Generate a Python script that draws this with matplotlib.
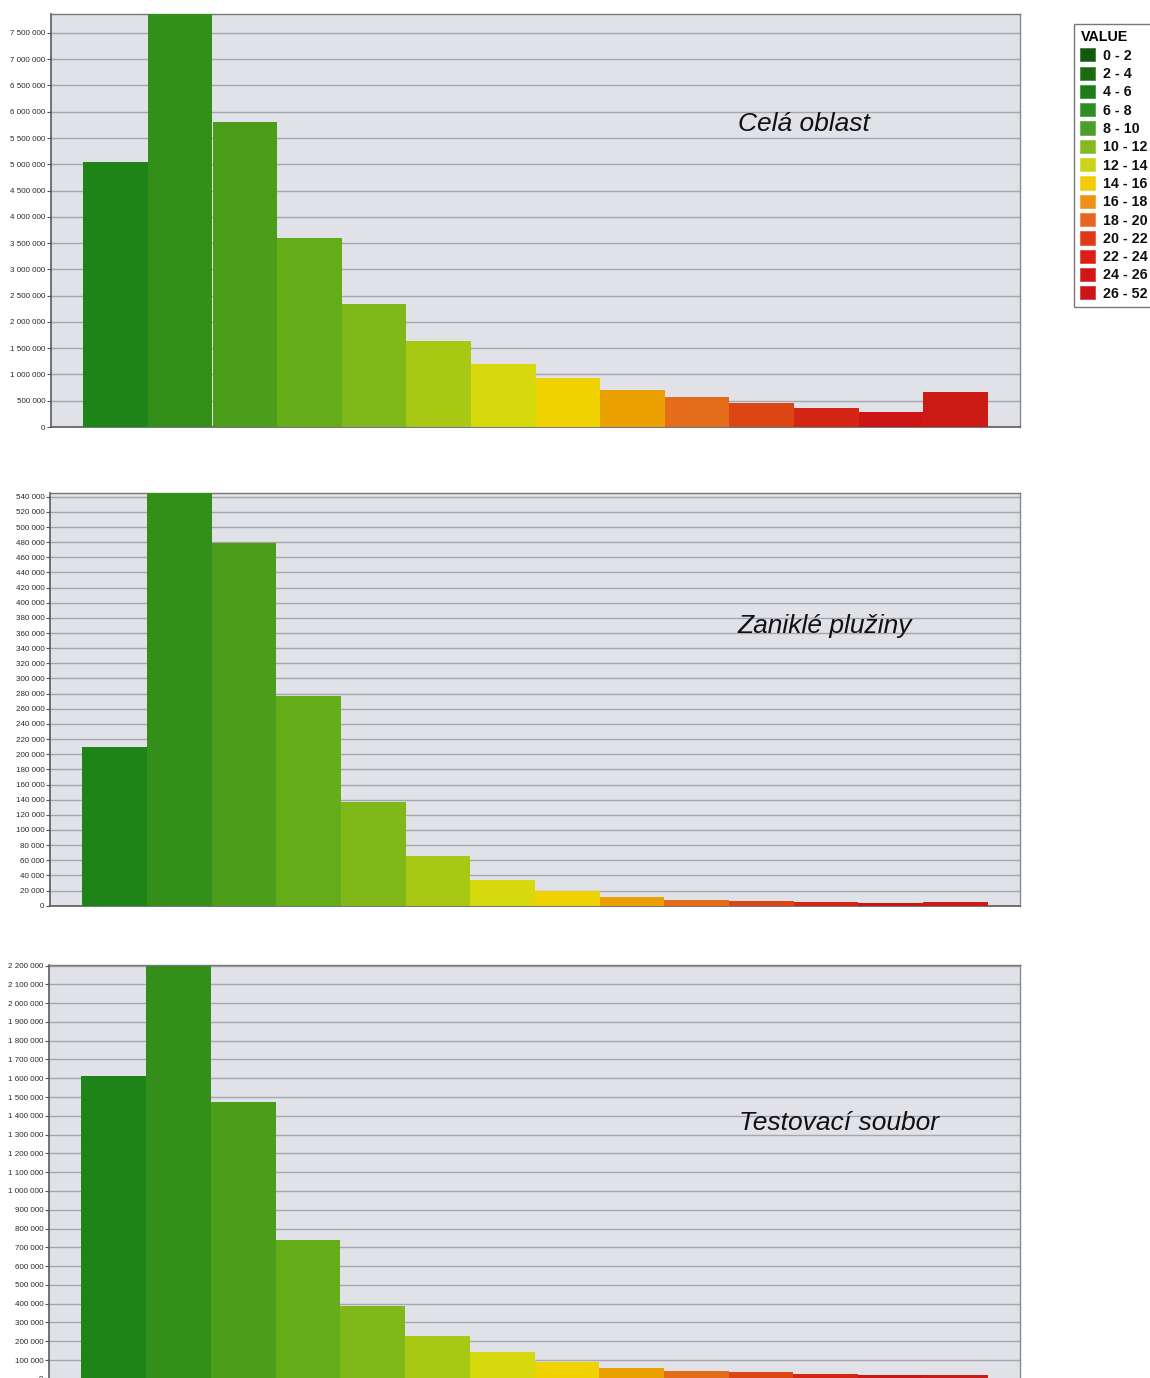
import matplotlib
matplotlib.use("Agg")
import matplotlib.pyplot as plt
from matplotlib.patches import Patch
from matplotlib.colors import to_rgb
import numpy as np

plt.rcParams['font.family'] = ['Liberation Sans', 'DejaVu Sans']

# Value classes (legend) and per-class pixel counts for each area
classes = ["0 - 2", "2 - 4", "4 - 6", "6 - 8", "8 - 10", "10 - 12", "12 - 14",
           "14 - 16", "16 - 18", "18 - 20", "20 - 22", "22 - 24", "24 - 26", "26 - 52"]

cela_oblast = [5040000, 7860000, 5800000, 3600000, 2340000, 1640000, 1200000,
               927000, 704000, 565000, 451000, 367000, 291000, 666000]
zanikle_pluziny = [209500, 545000, 479200, 276800, 137000, 65200, 34300,
                   19800, 11500, 7500, 5800, 4900, 4000, 5300]
testovaci_soubor = [1614000, 2200000, 1474000, 739000, 388000, 228000, 143000,
                    91000, 57500, 43000, 34600, 25600, 20000, 19000]

panel_titles = ["Celá oblast", "Zaniklé plužiny", "Testovací soubor"]
panel_ymax = [7860000, 545300, 2203000]
panel_step = [500000, 20000, 100000]

bar_colors = ["#1e8418", "#338f1a", "#4c9e1a", "#64ac18", "#80b81a", "#a8c814",
              "#d6da0c", "#efd200", "#e9a000", "#e46c1a", "#dc4614", "#d42614",
              "#cc1614", "#cc1a14"]
legend_colors = ["#0f5a0f", "#1a6a14", "#1f7a1a", "#2f8c22", "#4e9e2a", "#86b824",
                 "#c8d418", "#f2cc00", "#f09018", "#e8661e", "#e03818", "#d81e16",
                 "#d01616", "#cc1414"]


def lighten(c, f=0.35):
    r, g, b = to_rgb(c)
    return (r + (1 - r) * f, g + (1 - g) * f, b + (1 - b) * f)


W, H = 1150, 1378
fig = plt.figure(figsize=(W / 100, H / 100), dpi=100)
fig.patch.set_facecolor("white")

# axes boxes in pixel units: left, right, top, bottom
boxes = [(51, 1020, 14, 427), (50, 1020, 492.7, 905.7), (49, 1020, 965, 1378.8)]
title_pos = [(0.709, 0.734), (0.709, 0.677), (0.711, 0.619)]
series = [cela_oblast, zanikle_pluziny, testovaci_soubor]

x = np.arange(len(classes))

for (l, r, t, b), vals, ymax, step, title, tpos in zip(
        boxes, series, panel_ymax, panel_step, panel_titles, title_pos):
    ax = fig.add_axes([l / W, 1 - b / H, (r - l) / W, (b - t) / H])
    ax.set_facecolor("#e1e2e8")
    ax.bar(x, vals, width=1.0, color=bar_colors, edgecolor="none",
           linewidth=0, zorder=3)
    ax.set_xlim(-1, len(classes))
    ax.set_ylim(0, ymax)
    ticks = np.arange(0, ymax + 1, step)
    ax.set_yticks(ticks)
    ax.set_yticklabels(["0" if v == 0 else f"{int(v):,}".replace(",", " ") for v in ticks])
    ax.tick_params(axis="y", labelsize=5.8, length=3, width=0.8, pad=1,
                   color="#555555", labelcolor="#2a2a2a")
    ax.set_xticks([])
    ax.grid(axis="y", color="#a6a7ae", linewidth=1.0, zorder=1)
    ax.set_axisbelow(True)
    for side in ["left", "bottom"]:
        ax.spines[side].set_color("#5a5a62")
        ax.spines[side].set_linewidth(1.2)
    ax.spines["top"].set_color("#77777f")
    ax.spines["top"].set_linewidth(1.0)
    ax.spines["right"].set_color("#8a8a92")
    ax.spines["right"].set_linewidth(1.0)
    ax.text(tpos[0], tpos[1], title, transform=ax.transAxes, fontsize=19,
            style="italic", ha="left", va="center", color="#111111", zorder=5)

handles = [Patch(facecolor=c, edgecolor=lighten(c, 0.2), linewidth=0.6) for c in legend_colors]
leg = fig.legend(handles, classes, loc="upper left",
                 bbox_to_anchor=(1074 / W, 1 - 24 / H), bbox_transform=fig.transFigure,
                 title="VALUE", alignment="left", frameon=True, fancybox=False,
                 fontsize=10.3, title_fontproperties={"weight": "bold", "size": 10.3},
                 handlelength=1.05, handleheight=1.05, handletextpad=0.55,
                 labelspacing=0.265, borderpad=0.45, borderaxespad=0)
for txt in leg.get_texts():
    txt.set_fontweight("bold")
    txt.set_color("#111111")
leg.get_frame().set_edgecolor("#555555")
leg.get_frame().set_linewidth(1.0)

fig.savefig("out.png", dpi=100)
